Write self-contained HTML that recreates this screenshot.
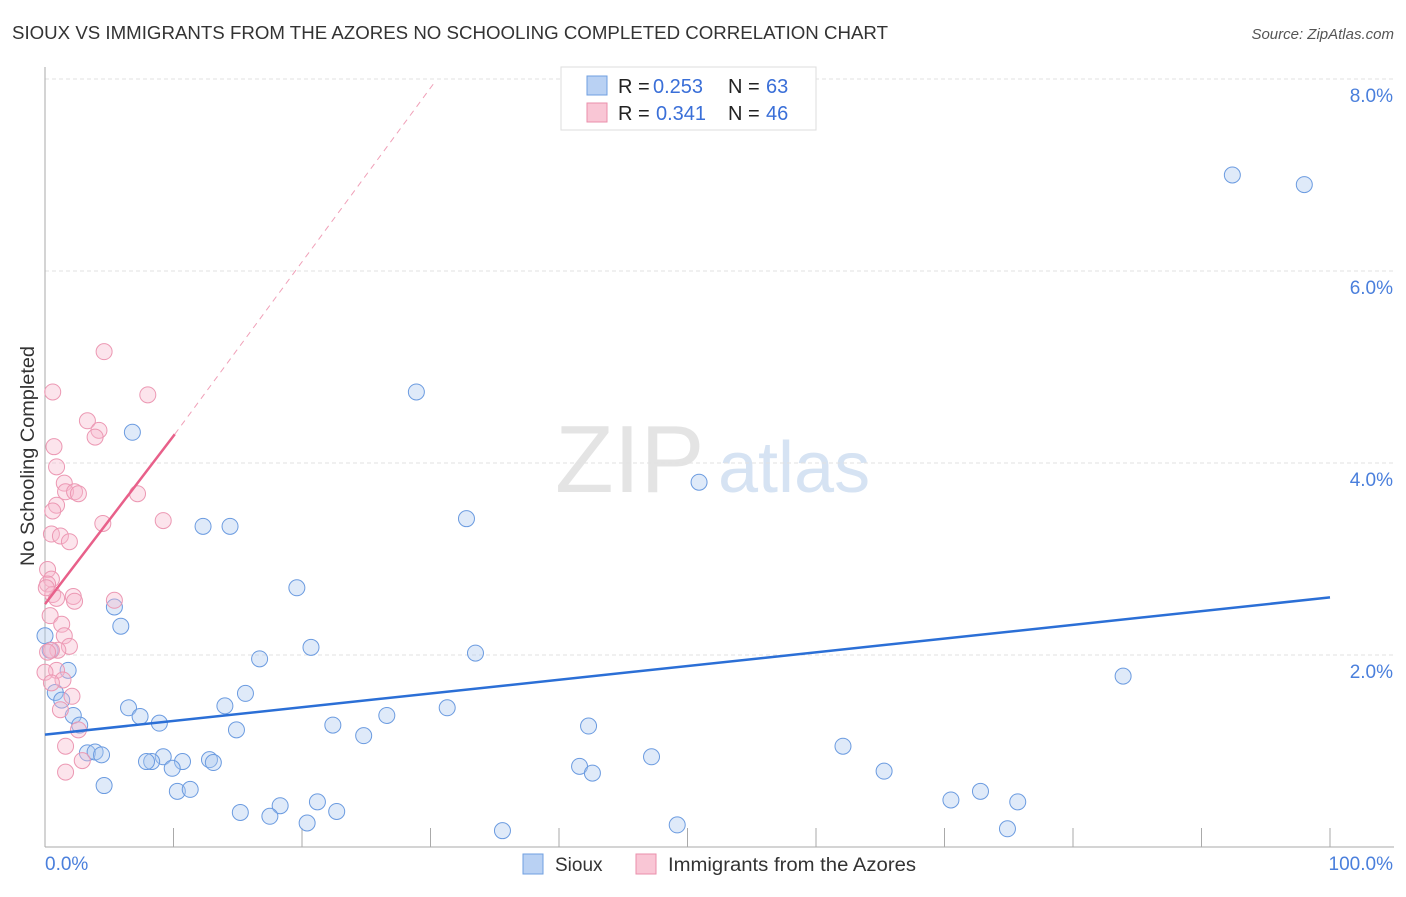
<!DOCTYPE html>
<html><head><meta charset="utf-8"><style>
body{margin:0;background:#fff;font-family:"Liberation Sans",sans-serif;}
svg text{font-family:"Liberation Sans",sans-serif;}
</style></head><body>
<svg id="c" width="1406" height="892" xmlns="http://www.w3.org/2000/svg">
<text x="12" y="39" font-size="18" fill="#333" textLength="876" lengthAdjust="spacingAndGlyphs">SIOUX VS IMMIGRANTS FROM THE AZORES NO SCHOOLING COMPLETED CORRELATION CHART</text>
<text x="1394" y="39" font-size="15" fill="#555" font-style="italic" text-anchor="end">Source: ZipAtlas.com</text>
<text x="34" y="456" font-size="19" fill="#333" transform="rotate(-90 34 456)" text-anchor="middle" textLength="220" lengthAdjust="spacingAndGlyphs">No Schooling Completed</text>
<text x="555" y="492" font-size="96" fill="#e4e4e4" font-family="Liberation Serif,serif">ZIP</text>
<text x="718" y="492" font-size="72" fill="#d6e3f3">atlas</text>
<g id="grid"></g><g id="marks"></g>
<g>
<rect x="561" y="67" width="255" height="63" fill="#fff" stroke="#ddd"/>
<rect x="587" y="76" width="20" height="19" fill="#b9d1f3" stroke="#6f9fe0"/>
<text x="618" y="93" font-size="20" fill="#222">R =</text><text x="653" y="93" font-size="20" fill="#3a6fd8">0.253</text>
<text x="728" y="93" font-size="20" fill="#222">N =</text><text x="766" y="93" font-size="20" fill="#3a6fd8">63</text>
<rect x="587" y="103" width="20" height="19" fill="#f9c6d5" stroke="#ea8fab"/>
<text x="618" y="120" font-size="20" fill="#222">R =</text><text x="656" y="120" font-size="20" fill="#3a6fd8">0.341</text>
<text x="728" y="120" font-size="20" fill="#222">N =</text><text x="766" y="120" font-size="20" fill="#3a6fd8">46</text>
</g>
<g>
<rect x="523" y="854" width="20" height="20" fill="#b9d1f3" stroke="#6f9fe0"/>
<text x="555" y="871" font-size="19" fill="#333">Sioux</text>
<rect x="636" y="854" width="20" height="20" fill="#f9c6d5" stroke="#ea8fab"/>
<text x="668" y="871" font-size="19" fill="#333" textLength="248" lengthAdjust="spacingAndGlyphs">Immigrants from the Azores</text>
</g>
</svg>
<script>
const yTicks=[2,4,6,8];
const yTickLabels=["2.0%","4.0%","6.0%","8.0%"];
const xEndLabels=["0.0%","100.0%"];
const siouxX=[92.4,98.0,28.9,6.8,50.9,32.8,12.3,14.4,19.6,5.4,5.9,20.7,33.5,16.7,0,0.4,1.8,83.9,15.6,0.8,1.3,6.5,14.0,31.3,7.4,2.2,26.6,8.9,22.4,2.7,42.3,14.9,24.8,3.3,62.1,3.9,4.4,9.2,12.8,8.3,7.9,10.7,13.1,9.9,47.2,41.6,42.6,65.3,4.6,10.3,11.3,72.8,70.5,75.7,21.2,18.3,15.2,22.7,17.5,20.4,49.2,35.6,74.9];
const siouxY=[7.0,6.9,4.74,4.32,3.8,3.42,3.34,3.34,2.7,2.5,2.3,2.08,2.02,1.96,2.2,2.05,1.84,1.78,1.6,1.61,1.53,1.45,1.47,1.45,1.36,1.37,1.37,1.29,1.27,1.27,1.26,1.22,1.16,0.98,1.05,0.99,0.96,0.94,0.91,0.89,0.89,0.89,0.88,0.82,0.94,0.84,0.77,0.79,0.64,0.58,0.6,0.58,0.49,0.47,0.47,0.43,0.36,0.37,0.32,0.25,0.23,0.17,0.19];
const azX=[4.6,0.6,8.0,3.3,4.2,3.9,0.7,0.9,1.5,1.6,2.3,2.6,7.2,0.9,0.6,4.5,9.2,0.5,1.2,1.9,0.2,0.5,0.2,0.6,5.4,2.2,2.3,0.9,0.4,1.3,1.5,1.9,1.0,0.5,0.2,0.9,0,1.4,0.5,2.1,1.2,2.6,1.6,2.9,1.6,0.1];
const azY=[5.16,4.74,4.71,4.44,4.34,4.27,4.17,3.96,3.79,3.7,3.7,3.68,3.68,3.56,3.5,3.37,3.4,3.26,3.24,3.18,2.89,2.79,2.74,2.63,2.57,2.61,2.56,2.59,2.41,2.32,2.2,2.09,2.05,2.05,2.03,1.84,1.82,1.74,1.71,1.57,1.43,1.22,1.05,0.9,0.78,2.7];
const siouxTrend=[[0,1.17],[100,2.6]];
const azTrend=[[0,2.53],[10.1,4.3]];
const azDash=[[10.1,4.3],[30.4,7.98]];
const X=v=>45+v*12.85, Y=v=>847-v*96;
const NS="http://www.w3.org/2000/svg";
function mk(tag,attrs,parent){const e=document.createElementNS(NS,tag);for(const k in attrs)e.setAttribute(k,attrs[k]);parent.appendChild(e);return e;}
const g=document.getElementById('grid'),m=document.getElementById('marks');
yTicks.forEach((t,i)=>{
 const l=mk('line',{x1:45,x2:1394,y1:Y(t),y2:Y(t),stroke:'#e2e2e2','stroke-dasharray':'4,3'},g);
 
 
 const tx=mk('text',{x:1393,y:Y(t)+23,'font-size':19,fill:'#4a7fdc','text-anchor':'end'},g);
 tx.textContent=yTickLabels[i];
 
 
});
const ax=mk('line',{x1:45,x2:45,y1:67,y2:847,stroke:'#aaa'},g);


const bx=mk('line',{x1:45,x2:1394,y1:847,y2:847,stroke:'#aaa'},g);


for(let i=0;i<=10;i++){const tk=mk('line',{x1:X(i*10),x2:X(i*10),y1:828,y2:847,stroke:'#aaa'},g);
 
 }
[[0,'start',45],[1,'end',1393]].forEach(([i,a,x])=>{const t=mk('text',{x:x,y:870,'font-size':19,fill:'#4a7fdc','text-anchor':a},g);t.textContent=xEndLabels[i];
 
 });
siouxX.forEach((v,i)=>{const c=mk('circle',{cx:X(v),cy:Y(siouxY[i]),r:8,fill:'rgba(170,200,240,0.38)',stroke:'#6b9be0','stroke-width':1},m);
 
 });
azX.forEach((v,i)=>{const c=mk('circle',{cx:X(v),cy:Y(azY[i]),r:8,fill:'rgba(247,185,205,0.38)',stroke:'#ec98b3','stroke-width':1},m);
 
 });
const l1=mk('line',{x1:X(siouxTrend[0][0]),y1:Y(siouxTrend[0][1]),x2:X(siouxTrend[1][0]),y2:Y(siouxTrend[1][1]),stroke:'#2b6fd6','stroke-width':2.5},m);


const l2=mk('line',{x1:X(azTrend[0][0]),y1:Y(azTrend[0][1]),x2:X(azTrend[1][0]),y2:Y(azTrend[1][1]),stroke:'#e8608a','stroke-width':2.5},m);


const l3=mk('line',{x1:X(azDash[0][0]),y1:Y(azDash[0][1]),x2:X(azDash[1][0]),y2:Y(azDash[1][1]),stroke:'#f0a0b8','stroke-width':1,'stroke-dasharray':'6,5'},m);


</script>
</body></html>
